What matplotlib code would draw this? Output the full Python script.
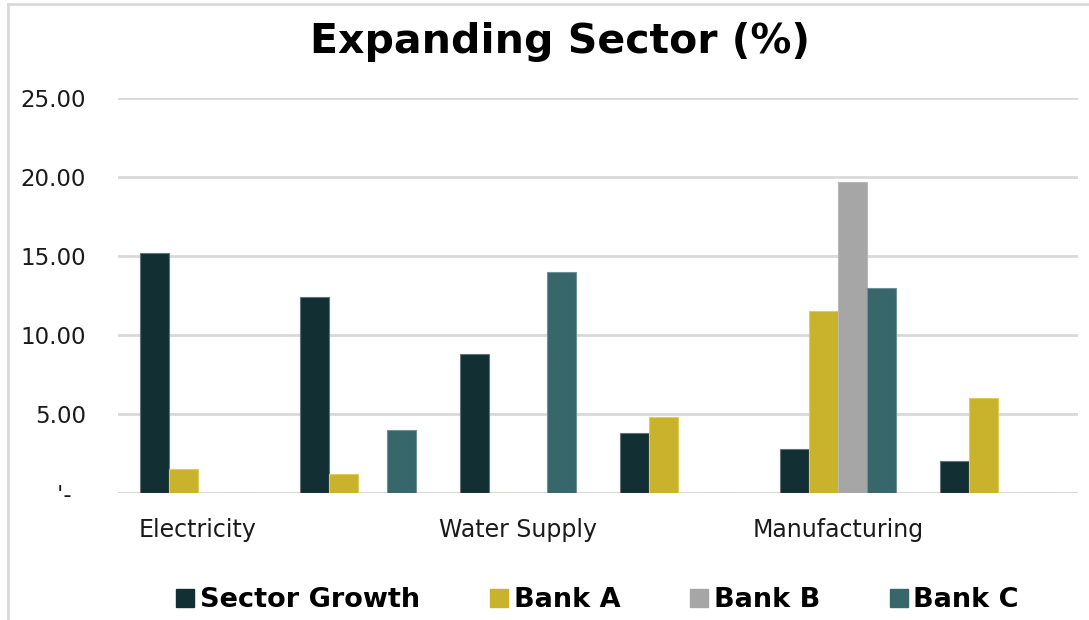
import numpy as np
import matplotlib
matplotlib.use('Agg')
import matplotlib.pyplot as plt
from matplotlib.lines import Line2D

plt.rcParams['font.family'] = ['DejaVu Sans']

# data
categories = ['Electricity', '', 'Water Supply', '', 'Manufacturing', '']
series_names = ['Sector Growth', 'Bank A', 'Bank B', 'Bank C']
sector_growth = [15.2, 12.4, 8.8, 3.8, 2.8, 2.0]
bank_a = [1.5, 1.2, 0.0, 4.8, 11.5, 6.0]
bank_b = [0.0, 0.0, 0.0, 0.0, 19.7, 0.0]
bank_c = [0.0, 4.0, 14.0, 0.0, 13.0, 0.0]
y_ticks = [0, 5, 10, 15, 20, 25]
y_tick_labels = ["'-  ", '5.00', '10.00', '15.00', '20.00', '25.00']

colors = ['#123033', '#C9B22C', '#A6A6A6', '#37666B']
edges = ['#5E7577', '#E0CC5A', '#B8B8B8', '#6E9296']

fig = plt.figure(figsize=(10.89, 6.2), dpi=100)
ax = fig.add_axes([118/1089, 1-493/620, 960/1089, 395/620])

x = np.arange(len(categories))
w = 0.18
values = [sector_growth, bank_a, bank_b, bank_c]
for i, vals in enumerate(values):
    ax.bar(x + (i-1.5)*w, vals, width=w, color=colors[i], edgecolor=edges[i],
           linewidth=0.8, label=series_names[i], zorder=3)

ax.set_xlim(-0.5, len(categories)-0.5)
ax.set_ylim(0, 25)
ax.set_yticks(y_ticks)
ax.set_yticklabels(y_tick_labels)
ax.set_xticks(x)
ax.set_xticklabels(categories)
ax.grid(axis='y', color='#D9D9D9', linewidth=2, zorder=0)
ax.tick_params(axis='both', length=0, labelsize=16.5, colors='#1a1a1a')
ax.tick_params(axis='x', pad=18)
ax.tick_params(axis='y', pad=23)
for lbl in ax.get_xticklabels():
    lbl.set_fontsize(17)
for s in ax.spines.values():
    s.set_visible(False)
ax.axhline(0, color='#D9D9D9', linewidth=2, zorder=2)

fig.text(560/1089, 1-42/620, 'Expanding Sector (%)', ha='center', va='center',
         fontsize=29.5, fontweight='bold', color='black')

handles = [Line2D([], [], marker='s', linestyle='none', markersize=12.5,
                  markerfacecolor=c, markeredgecolor=c) for c in colors]
ax.legend(handles, series_names, loc='center', bbox_to_anchor=(0.5, (620-600-127)/395),
          bbox_transform=ax.transAxes, ncol=4, frameon=False,
          prop={'size': 19.5, 'weight': 'bold'}, handletextpad=0.25, columnspacing=2.6,
          handlelength=0.6)

# outer chart border
fig.add_artist(Line2D([8/1089, 8/1089], [0, 1-4/620], transform=fig.transFigure,
                      color='#D9D9D9', linewidth=2))
fig.add_artist(Line2D([8/1089, 1], [1-4/620, 1-4/620], transform=fig.transFigure,
                      color='#D9D9D9', linewidth=2))

fig.savefig('out.png', dpi=100)
